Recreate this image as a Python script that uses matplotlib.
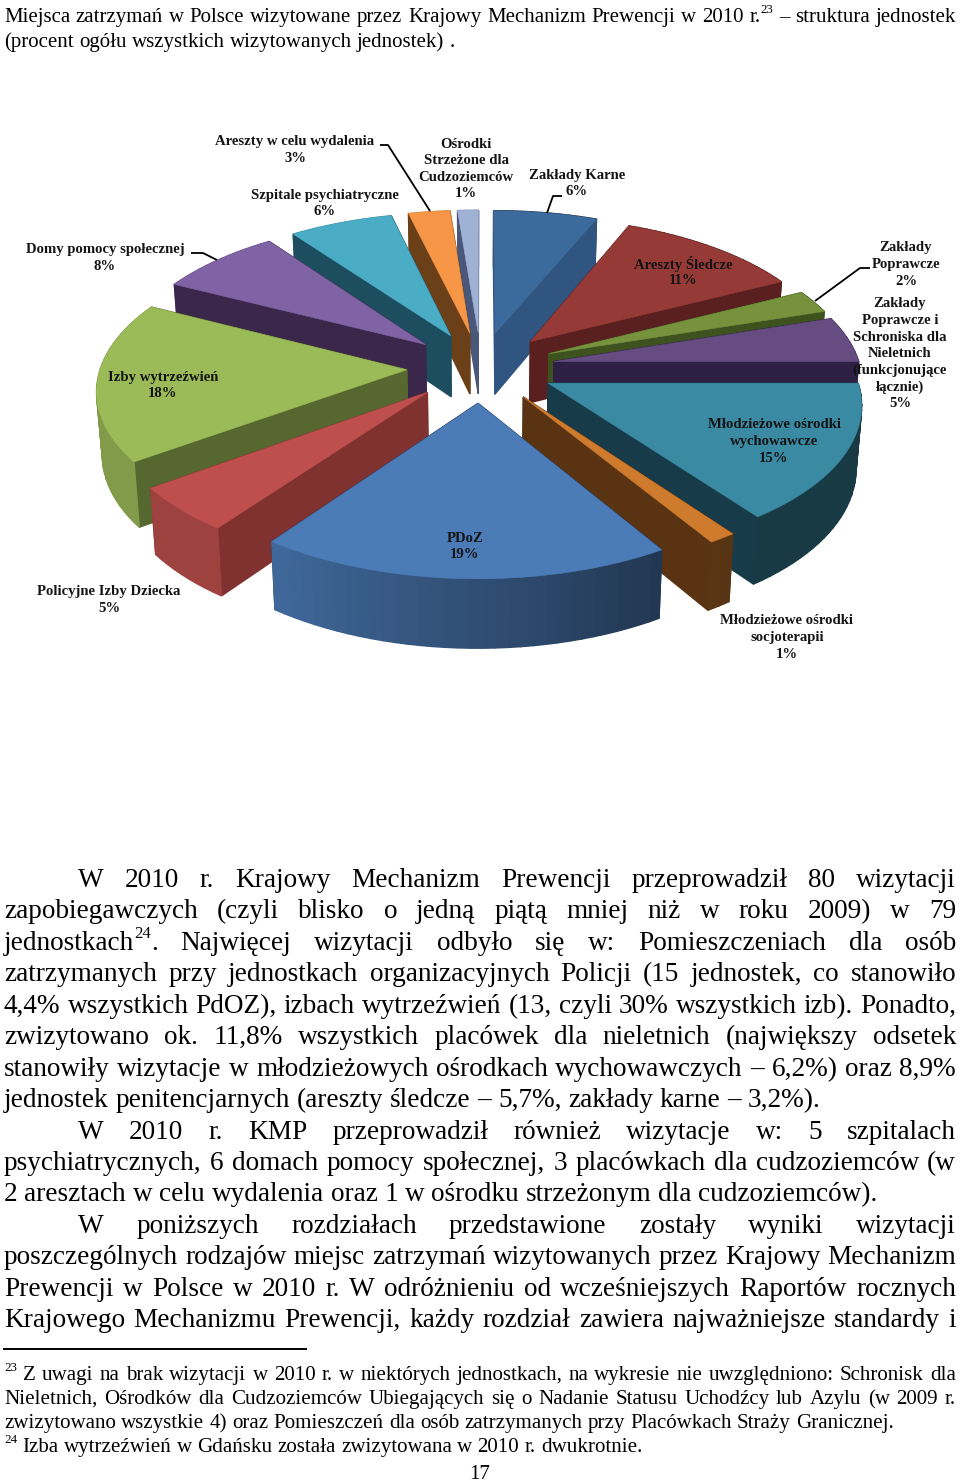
import re
import numpy as np
import matplotlib
matplotlib.use("Agg")
import matplotlib.pyplot as plt

SERIF = "Liberation Serif"

# liczba wizyt w 2010 r. (80 razem), kolejnosc zgodnie z ruchem wskazowek od gory
categories = ["Zakłady Karne", "Areszty Śledcze", "Zakłady\nPoprawcze",
              "Zakłady\nPoprawcze i\nSchroniska dla\nNieletnich\n(funkcjonujące\nłącznie)",
              "Młodzieżowe ośrodki\nwychowawcze", "Młodzieżowe ośrodki\nsocjoterapii",
              "PDoZ", "Policyjne Izby Dziecka", "Izby wytrzeźwień",
              "Domy pomocy społecznej", "Szpitale psychiatryczne",
              "Areszty w celu wydalenia", "Ośrodki\nStrzeżone dla\nCudzoziemców"]
visits = [5, 9, 2, 4, 12, 1, 15, 4, 14, 6, 5, 2, 1]
pct_labels = ["6%", "11%", "2%", "5%", "15%", "1%", "19%", "5%", "18%", "8%", "6%", "3%", "1%"]

top_colors = ["#3d6a9c", "#953a37", "#76923c", "#674c82", "#3a8aa3", "#ce7b2e", "#4c7cb8",
              "#be4f4d", "#9bbb59", "#8063a5", "#4bacc6", "#f79646", "#9fb1d5"]
wall_colors = ["#2f5580", "#5a1f1f", "#3e5220", "#2e1f44", "#173b49", "#5a3312", "#21375a",
               "#803230", "#56682f", "#3b2749", "#1d4e5f", "#6b3f17", "#49587a"]

# srodek etykiety (x, y pierwszej linii)
label_pos = [(577, 175), (683, 264), (906, 248), (900, 304), (774, 425), (787, 621), (465, 538),
             (109, 592), (163, 377), (105, 250), (325, 195), (295, 142), (466, 144)]
leaders = [[(562, 196), (553, 196), (547, 213)],
           [(870, 268), (860, 268), (815, 301)],
           [(191, 253), (203, 253), (217, 260)],
           [(380, 145), (388, 145), (430, 211)]]

header = [("Miejsca zatrzymań w Polsce wizytowane przez Krajowy Mechanizm Prewencji w 2010 r.^23 – struktura jednostek", True, 4),
          ("(procent ogółu wszystkich wizytowanych jednostek) .", False, 4)]
body = [("W 2010 r. Krajowy Mechanizm Prewencji przeprowadził 80 wizytacji", True, 78),
        ("zapobiegawczych (czyli blisko o jedną piątą mniej niż w roku 2009) w 79", True, 4),
        ("jednostkach^24. Najwięcej wizytacji odbyło się w: Pomieszczeniach dla osób", True, 4),
        ("zatrzymanych przy jednostkach organizacyjnych Policji (15 jednostek, co stanowiło", True, 4),
        ("4,4% wszystkich PdOZ), izbach wytrzeźwień (13, czyli 30% wszystkich izb). Ponadto,", True, 4),
        ("zwizytowano ok. 11,8% wszystkich placówek dla nieletnich (największy odsetek", True, 4),
        ("stanowiły wizytacje w młodzieżowych ośrodkach wychowawczych – 6,2%) oraz 8,9%", True, 4),
        ("jednostek penitencjarnych (areszty śledcze – 5,7%, zakłady karne – 3,2%).", False, 4),
        ("W 2010 r. KMP przeprowadził również wizytacje w: 5 szpitalach", True, 78),
        ("psychiatrycznych, 6 domach pomocy społecznej, 3 placówkach dla cudzoziemców (w", True, 4),
        ("2 aresztach w celu wydalenia oraz 1 w ośrodku strzeżonym dla cudzoziemców).", False, 4),
        ("W poniższych rozdziałach przedstawione zostały wyniki wizytacji", True, 78),
        ("poszczególnych rodzajów miejsc zatrzymań wizytowanych przez Krajowy Mechanizm", True, 4),
        ("Prewencji w Polsce w 2010 r. W odróżnieniu od wcześniejszych Raportów rocznych", True, 4),
        ("Krajowego Mechanizmu Prewencji, każdy rozdział zawiera najważniejsze standardy i", True, 4)]
notes = [("^23 Z uwagi na brak wizytacji w 2010 r. w niektórych jednostkach, na wykresie nie uwzględniono: Schronisk dla", True, 4),
         ("Nieletnich, Ośrodków dla Cudzoziemców Ubiegających się o Nadanie Statusu Uchodźcy lub Azylu (w 2009 r.", True, 4),
         ("zwizytowano wszystkie 4) oraz Pomieszczeń dla osób zatrzymanych przy Placówkach Straży Granicznej.", False, 4),
         ("^24 Izba wytrzeźwień w Gdańsku została zwizytowana w 2010 r. dwukrotnie.", False, 4)]

# parametry rzutu perspektywicznego
CX, CY = 481, 367
AX, BY = 306, 145
PERSP = 0.12
EXPLODE = 0.243
DEPTH = 62

fig = plt.figure(figsize=(9.6, 14.84), dpi=100)
ax = fig.add_axes([0, 0, 1, 1])
ax.set_xlim(0, 960)
ax.set_ylim(1484, 0)
ax.axis("off")
renderer = fig.canvas.get_renderer()


def project(x, y):
    # y dodatnie = blizej widza
    t = 1 / (1 - PERSP * np.asarray(y))
    return CX + AX * np.asarray(x) * t, CY + BY * np.asarray(y) * t, t


def down(sx, sy, t):
    # dolna krawedz sciany
    return CX + (sx - CX) * 0.985, sy + DEPTH * t ** 0.7


def shade(color, f):
    rgb = np.array(matplotlib.colors.to_rgb(color))
    return tuple(rgb * f)


def draw_slice(a0, a1, top, wall):
    mid = (a0 + a1) / 2
    ox, oy = EXPLODE * np.sin(mid), -EXPLODE * np.cos(mid)
    th = np.linspace(a0, a1, max(int(np.degrees(a1 - a0) / 2), 2) + 1)
    rim_x, rim_y, rim_t = project(ox + np.sin(th), oy - np.cos(th))
    ap_x, ap_y, ap_t = project(ox, oy)
    bx, by = down(rim_x, rim_y, rim_t)
    abx, aby = down(ap_x, ap_y, ap_t)

    faces = []
    for i in (0, -1):
        quad_x = [ap_x, rim_x[i], bx[i], abx]
        quad_y = [ap_y, rim_y[i], by[i], aby]
        faces.append(((ap_y + rim_y[i]) / 2, quad_x, quad_y, wall))
    for i in range(len(th) - 1):
        deg = np.degrees((th[i] + th[i + 1]) / 2)
        f = np.clip(0.45 + (deg - 150) * 0.006, 0.42, 0.83)
        quad_x = [rim_x[i], rim_x[i + 1], bx[i + 1], bx[i]]
        quad_y = [rim_y[i], rim_y[i + 1], by[i + 1], by[i]]
        faces.append(((rim_y[i] + rim_y[i + 1]) / 2, quad_x, quad_y, shade(top, f)))
    for _, fx, fy, c in sorted(faces, key=lambda q: q[0]):
        ax.fill(fx, fy, color=c, lw=1.0)
    ax.fill(np.r_[ap_x, rim_x], np.r_[ap_y, rim_y], color=top, lw=0.4)


edges = np.r_[0, np.cumsum(visits)] / np.sum(visits) * 2 * np.pi
apex_y = []
for k in range(len(visits)):
    m = (edges[k] + edges[k + 1]) / 2
    apex_y.append(project(EXPLODE * np.sin(m), -EXPLODE * np.cos(m))[1])
# od tylu do przodu
for k in np.argsort(apex_y):
    draw_slice(edges[k], edges[k + 1], top_colors[k], wall_colors[k])

for pts in leaders:
    ax.plot([p[0] for p in pts], [p[1] for p in pts], color="black", lw=1.3, solid_capstyle="butt")

for k, name in enumerate(categories):
    lines = name.split("\n") + [pct_labels[k]]
    lx, ly = label_pos[k]
    for j, line in enumerate(lines):
        ax.text(lx, ly + j * 16.6, line, ha="center", va="center", family=SERIF, weight="bold",
                fontsize=10.6, color="#141414")


def text_width(s, size):
    t = ax.text(0, 0, s, family=SERIF, fontsize=size)
    w = t.get_window_extent(renderer).width
    t.remove()
    return w


def word_runs(word):
    parts = re.split(r"\^(\d+)", word)
    return [(p, i % 2 == 1) for i, p in enumerate(parts) if p]


def draw_line(line, y, size, justify, x0, x1=956):
    words = line.split(" ")
    sup = 0.62
    runs = [word_runs(w) for w in words]
    wid = [sum(text_width(p, size * sup if s else size) for p, s in r) for r in runs]
    gap = size * 100 / 72 * 0.25
    if justify and len(words) > 1:
        gap = (x1 - x0 - sum(wid)) / (len(words) - 1)
    x = x0
    for r, w in zip(runs, wid):
        px = x
        for p, s in r:
            fs = size * sup if s else size
            dy = size * 100 / 72 * 0.42 if s else 0
            ax.text(px, y - dy, p, family=SERIF, fontsize=fs, va="baseline", ha="left", color="black")
            px += text_width(p, fs)
        x += w + gap


for (line, just, x0), y in zip(header, [22, 47]):
    draw_line(line, y, 15, just, x0)

for i, (line, just, x0) in enumerate(body):
    draw_line(line, 887 + i * 31.44, 19.6, just, x0)

ax.plot([4, 306], [1349, 1349], color="black", lw=1.4)
for (line, just, x0), y in zip(notes, [1380, 1404, 1428, 1452]):
    draw_line(line, y, 15.1, just, x0)
ax.text(480, 1479, "17", family=SERIF, fontsize=15, ha="center", va="baseline", color="black")

fig.savefig("out.png", dpi=100)
